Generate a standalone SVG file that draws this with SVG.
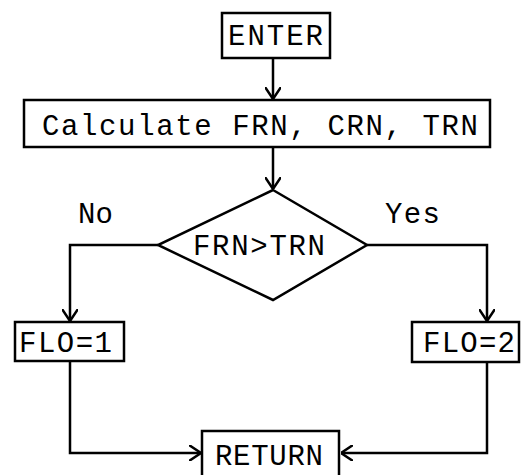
<svg xmlns="http://www.w3.org/2000/svg" width="522" height="475" viewBox="0 0 522 475">
<defs>
<marker id="arr" viewBox="0 0 12 16" refX="12" refY="8" markerWidth="12" markerHeight="16" markerUnits="userSpaceOnUse" orient="auto">
<path d="M0,0 L12,8 L0,16" fill="none" stroke="#000" stroke-width="2.5"/>
</marker>
<style>
.box{fill:#fff;stroke:#000;stroke-width:2.5}
.t{font-family:"Liberation Mono","Courier New",monospace;font-size:29px;fill:#000}
.c{fill:none;stroke:#000;stroke-width:2.5}
</style>
</defs>
<rect width="522" height="475" fill="#fff"/>
<g id="connectors">
<path class="c" d="M273,58 V99" marker-end="url(#arr)"/>
<path class="c" d="M273,147 V189" marker-end="url(#arr)"/>
<path class="c" d="M158,245 H70 V321" marker-end="url(#arr)"/>
<path class="c" d="M367,245 H487 V321" marker-end="url(#arr)"/>
<path class="c" d="M70,361 V453 H201" marker-end="url(#arr)"/>
<path class="c" d="M487,362 V453 H341" marker-end="url(#arr)"/>
</g>
<g id="enter">
<rect class="box" x="222" y="13" width="108" height="45"/>
<text class="t" x="228" y="45" textLength="95">ENTER</text>
</g>
<g id="calc">
<rect class="box" x="24" y="100" width="466" height="47"/>
<text class="t" x="42" y="135" textLength="436">Calculate FRN, CRN, TRN</text>
</g>
<g id="decision">
<polygon class="box" points="273,190 367,245 273,300 158,245"/>
<text class="t" x="193" y="255" textLength="132">FRN&gt;TRN</text>
</g>
<text class="t" x="78" y="223" textLength="35">No</text>
<text class="t" x="385" y="223" textLength="55">Yes</text>
<g id="flo1">
<rect class="box" x="15" y="322" width="109" height="39"/>
<text class="t" x="19" y="352" textLength="93">FLO=1</text>
</g>
<g id="flo2">
<rect class="box" x="412" y="322" width="107" height="40"/>
<text class="t" x="423" y="352" textLength="92">FLO=2</text>
</g>
<g id="return">
<rect class="box" x="202" y="431" width="137" height="46"/>
<text class="t" x="215" y="465" textLength="108">RETURN</text>
</g>
</svg>
